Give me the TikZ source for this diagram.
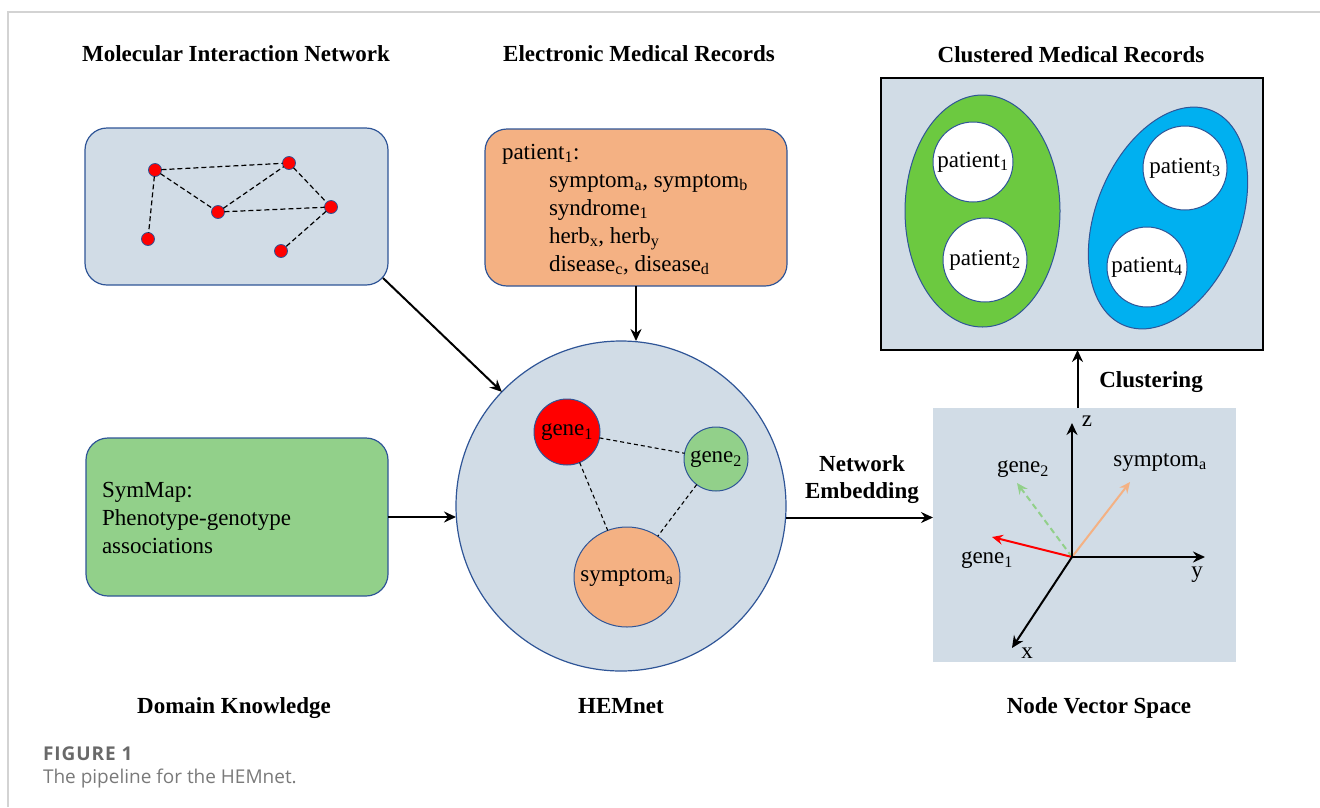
\documentclass[tikz,border=0pt]{standalone}
\usepackage{fontspec}
\setmainfont{Liberation Serif}
\newfontfamily\capfont{Open Sans}
\usetikzlibrary{arrows.meta,shapes.geometric}
\definecolor{panel}{HTML}{D1DCE6}
\definecolor{edgeblue}{HTML}{2F5597}
\definecolor{peach}{HTML}{F4B183}
\definecolor{leaf}{HTML}{92D08A}
\definecolor{grass}{HTML}{6CC940}
\definecolor{sky}{HTML}{00B0F0}
\definecolor{framegray}{HTML}{D3D3D3}
\definecolor{capgray}{HTML}{696969}
\definecolor{captext}{HTML}{7A7A7A}
\newcommand\sub[1]{\textsubscript{#1}}

\begin{document}
\begin{tikzpicture}[x=1pt,y=-1pt,
  every node/.style={font=\fontsize{23}{28}\selectfont, inner sep=0pt, outer sep=0pt},
  heading/.style={font=\fontsize{23}{28}\selectfont\bfseries, anchor=base},
  roundbox/.style={draw=edgeblue, line width=1.2pt, rounded corners=22pt},
  dot/.style={circle, fill=red, draw=edgeblue, line width=0.8pt, minimum size=13pt},
  link/.style={dash pattern=on 5pt off 3pt, line width=1.2pt},
  flow/.style={-{Stealth[length=12pt,width=11pt,inset=4pt]}, line width=2pt},
  ball/.style={circle, draw=edgeblue, line width=1pt},
  axis/.style={-{Stealth[length=12pt,width=11pt,inset=4pt]}, line width=2pt},
  vec/.style={-{Stealth[length=11pt,width=10pt,inset=4pt]}, line width=2pt},
  textline/.style={anchor=base west}
]
\useasboundingbox (0,0) rectangle (1320,807);

% page frame
\draw[framegray, line width=1.5pt] (8,807) -- (8,12) -- (1320,12);

% headings
\node[heading] (hMol) at (236,61) {Molecular Interaction Network};
\node[heading] (hEmr) at (639,61) {Electronic Medical Records};
\node[heading] (hClu) at (1071,62) {Clustered Medical Records};
\node[heading] (hDom) at (234,713) {Domain Knowledge};
\node[heading] (hHem) at (621,713) {HEMnet};
\node[heading] (hNvs) at (1099,713) {Node Vector Space};

% molecular interaction network
\node[roundbox, fill=panel, minimum width=303pt, minimum height=157pt] (net) at (236.5,206.5) {};
\node[dot] (d1) at (155,170) {};
\node[dot] (d2) at (289,163) {};
\node[dot] (d3) at (218,212) {};
\node[dot] (d4) at (331,207) {};
\node[dot] (d5) at (148,239) {};
\node[dot] (d6) at (281,251) {};
\draw[link] (d1) -- (d2);
\draw[link] (d1) -- (d3);
\draw[link] (d3) -- (d2);
\draw[link] (d2) -- (d4);
\draw[link] (d3) -- (d4);
\draw[link] (d1) -- (d5);
\draw[link] (d4) -- (d6);

% electronic medical records
\node[roundbox, fill=peach, minimum width=302pt, minimum height=157pt] (emr) at (636,207.5) {};
\node[textline] (e1) at (502,159) {patient\sub{1}:};
\node[textline] (e2) at (549,187) {symptom\sub{a}, symptom\sub{b}};
\node[textline] (e3) at (549,215) {syndrome\sub{1}};
\node[textline] (e4) at (549,243) {herb\sub{x}, herb\sub{y}};
\node[textline] (e5) at (549,271) {disease\sub{c}, disease\sub{d}};

% domain knowledge
\node[roundbox, fill=leaf, minimum width=302pt, minimum height=158pt] (dom) at (237,517) {};
\node[textline] (k1) at (102,497) {SymMap:};
\node[textline] (k2) at (102,525) {Phenotype-genotype};
\node[textline] (k3) at (102,553) {associations};

% HEMnet
\node[ball, fill=panel, line width=1.2pt, minimum size=330pt] (hem) at (621,506) {};
\node[ball, fill=red, minimum size=66pt] (g1) at (567,432) {};
\node[ball, fill=leaf, minimum size=64pt] (g2) at (716,459) {};
\node[ellipse, draw=edgeblue, line width=1pt, fill=peach, minimum width=106pt, minimum height=100pt] (sa) at (627,577) {};
\node (g1t) at (g1) {gene\sub{1}};
\node (g2t) at (g2) {gene\sub{2}};
\node (sat) at (sa) {symptom\sub{a}};
\draw[dash pattern=on 4pt off 3pt, line width=1.1pt] (g1) -- (g2);
\draw[dash pattern=on 4pt off 3pt, line width=1.1pt] (g1) -- (sa);
\draw[dash pattern=on 4pt off 3pt, line width=1.1pt] (g2) -- (sa);

% clustered medical records
\node[draw=black, line width=2.2pt, fill=panel, minimum width=382pt, minimum height=272pt] (clu) at (1072,214) {};
\node[ellipse, draw=edgeblue, line width=1pt, fill=grass, minimum width=155pt, minimum height=232pt] (cg) at (982.5,211) {};
\node[ellipse, draw=edgeblue, line width=1pt, fill=sky, minimum width=144pt, minimum height=232pt, rotate=-22] (cb) at (1168,218) {};
\node[ball, fill=white, minimum size=80pt] (p1) at (973,162) {};
\node[ball, fill=white, minimum size=84pt] (p2) at (985,260) {};
\node[ball, fill=white, minimum size=84pt] (p3) at (1185,168) {};
\node[ball, fill=white, minimum size=80pt] (p4) at (1147,267) {};
\node (p1t) at (p1) {patient\sub{1}};
\node (p2t) at (p2) {patient\sub{2}};
\node (p3t) at (p3) {patient\sub{3}};
\node (p4t) at (p4) {patient\sub{4}};

% node vector space
\node[fill=panel, minimum width=303pt, minimum height=254pt] (nvs) at (1084.5,535) {};
\coordinate (o) at (1072,557);
\coordinate (zt) at (1072,423);
\coordinate (yt) at (1205,557);
\coordinate (xt) at (1012,648);
\coordinate (v2) at (1017,483);
\coordinate (vs) at (1130,482);
\coordinate (v1) at (992,537);
\draw[vec, leaf, dash pattern=on 6pt off 4pt] (o) -- (v2);
\draw[vec, peach] (o) -- (vs);
\draw[vec, red] (o) -- (v1);
\draw[axis] (o) -- (zt);
\draw[axis] (o) -- (yt);
\draw[axis] (o) -- (xt);
\node (lz) at (1087,421) {z};
\node (ly) at (1197,575) {y};
\node (lx) at (1027,653) {x};
\node (lg2) at (1023,469) {gene\sub{2}};
\node (ls) at (1160,462) {symptom\sub{a}};
\node (lg1) at (987,560) {gene\sub{1}};

% pipeline connectors
\coordinate (netout) at (383,278);
\draw[flow] (netout) -- (hem);
\draw[flow] (emr.south) -- (emr.south |- hem.north);
\draw[flow] (dom.east) -- (dom.east -| hem.west);
\draw[flow] (hem.-4.5) -- (hem.-4.5 -| nvs.west);
\draw[flow] ([xshift=-7pt]nvs.north) -- ([xshift=-7pt]nvs.north |- clu.south);
\node[heading] (lemb1) at (862,471) {Network};
\node[heading] (lemb2) at (862,498) {Embedding};
\node[heading] (lclu) at (1151,387) {Clustering};

% caption
\node[anchor=base west, font=\capfont\bfseries\fontsize{19}{23}\selectfont\addfontfeature{LetterSpace=5}, text=capgray] (cap1) at (43,760) {FIGURE 1};
\node[anchor=base west, font=\capfont\fontsize{19}{23}\selectfont, text=captext] (cap2) at (43,783) {The pipeline for the HEMnet.};
\end{tikzpicture}
\end{document}
